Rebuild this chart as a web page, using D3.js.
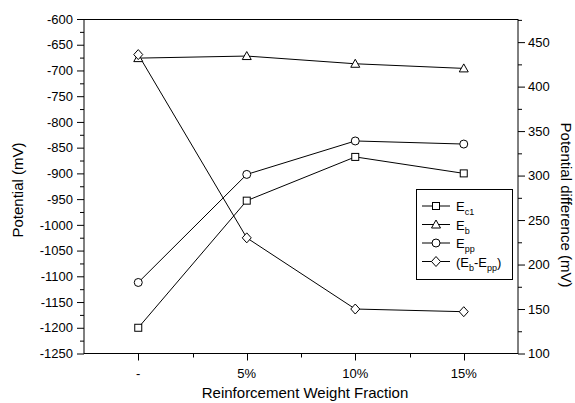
<!DOCTYPE html>
<html>
<head>
<meta charset="utf-8">
<script src="https://cdn.jsdelivr.net/npm/d3@7"></script>
<style>
  html, body { margin: 0; padding: 0; background: #fff; }
  svg { display: block; }
  text { font-family: "Liberation Sans", Arial, sans-serif; fill: #000; }
</style>
</head>
<body>
<script>
// Weight fractions of reinforcement
const categories = ["-", "5%", "10%", "15%"];

// Potentials (mV), left axis
const Ec1 = [-1200, -953, -868, -900];
const Eb  = [-676, -672, -687, -696];
const Epp = [-1112, -902, -837, -843];

// Potential difference Eb - Epp (mV), right axis
const diff = [436, 230, 150, 147];

const leftTicks  = d3.range(-1250, -599, 50);
const leftMinor  = d3.range(-1225, -600, 50);
const rightTicks = d3.range(100, 451, 50);
const rightMinor = d3.range(125, 476, 50);

const W = 575, H = 403;
const plot = { left: 84, right: 518, top: 19, bottom: 353.5 };

const svg = d3.select("body").append("svg")
  .attr("width", W).attr("height", H);

const x = d3.scaleBand().domain(categories)
  .range([plot.left, plot.right]).paddingInner(0).paddingOuter(0);
const xc = c => x(c) + x.bandwidth() / 2;

const yL = d3.scaleLinear().domain([-1250, -600]).range([plot.bottom, plot.top]);
const yR = d3.scaleLinear().domain([100, 476]).range([plot.bottom, plot.top]);

// plain hyphen for negative numbers
const fmt = d => String(d);

// frame
svg.append("rect")
  .attr("x", plot.left).attr("y", plot.top + 0.5)
  .attr("width", plot.right - plot.left).attr("height", plot.bottom - plot.top - 0.5)
  .attr("fill", "none").attr("stroke", "#000").attr("stroke-width", 1);

function styleAxis(g) {
  g.attr("font-family", null);
  g.select(".domain").remove();
  g.selectAll("line").attr("stroke", "#000");
  g.selectAll("text").style("font-size", "13px")
    .style("font-family", '"Liberation Sans", Arial, sans-serif');
}

// left axis
svg.append("g").attr("transform", `translate(${plot.left},0)`)
  .call(d3.axisLeft(yL).tickValues(leftTicks).tickSize(7).tickPadding(4).tickFormat(fmt))
  .call(styleAxis);
svg.append("g").attr("transform", `translate(${plot.left},0)`)
  .call(d3.axisLeft(yL).tickValues(leftMinor).tickSize(4).tickFormat(""))
  .call(styleAxis);

// right axis
svg.append("g").attr("transform", `translate(${plot.right},0)`)
  .call(d3.axisRight(yR).tickValues(rightTicks).tickSize(7).tickPadding(3).tickFormat(fmt))
  .call(styleAxis);
svg.append("g").attr("transform", `translate(${plot.right},0)`)
  .call(d3.axisRight(yR).tickValues(rightMinor).tickSize(4).tickFormat(""))
  .call(styleAxis);

// bottom axis: major ticks at category centres, minor at band edges
const xAxis = svg.append("g").attr("transform", `translate(0,${plot.bottom})`);
xAxis.selectAll("line.major").data(categories).join("line")
  .attr("x1", d => Math.round(xc(d)) + 0.5).attr("x2", d => Math.round(xc(d)) + 0.5)
  .attr("y1", 0).attr("y2", 7).attr("stroke", "#000");
xAxis.selectAll("line.minor").data(categories.slice(1)).join("line")
  .attr("x1", d => Math.round(x(d)) + 0.5).attr("x2", d => Math.round(x(d)) + 0.5)
  .attr("y1", 0).attr("y2", 4).attr("stroke", "#000");
xAxis.selectAll("text").data(categories).join("text")
  .attr("x", d => xc(d)).attr("y", 24)
  .attr("text-anchor", "middle").style("font-size", "13px")
  .text(d => d);

// axis titles
svg.append("text")
  .attr("transform", "translate(305,398)")
  .attr("text-anchor", "middle").style("font-size", "15px")
  .text("Reinforcement Weight Fraction");
svg.append("text")
  .attr("transform", "translate(23,190) rotate(-90)")
  .attr("text-anchor", "middle").style("font-size", "15px")
  .text("Potential (mV)");
svg.append("text")
  .attr("transform", "translate(561,205) rotate(90)")
  .attr("text-anchor", "middle").style("font-size", "15px")
  .text("Potential difference (mV)");

// marker shapes
const markers = {
  square: s => s.append("rect").attr("x", -3.5).attr("y", -3.5).attr("width", 7).attr("height", 7),
  triangle: s => s.append("path").attr("d", "M0,-4.5L4.5,3.5L-4.5,3.5Z"),
  circle: s => s.append("circle").attr("r", 4),
  diamond: s => s.append("path").attr("d", "M0,-5L4.5,0L0,5L-4.5,0Z")
};

const series = [
  { name: "Ec1", values: Ec1, y: yL, marker: "square" },
  { name: "Eb", values: Eb, y: yL, marker: "triangle" },
  { name: "Epp", values: Epp, y: yL, marker: "circle" },
  { name: "diff", values: diff, y: yR, marker: "diamond" }
];

const lineGen = yScale => d3.line()
  .x((d, i) => xc(categories[i]))
  .y(d => yScale(d));

series.forEach(s => {
  svg.append("path").datum(s.values)
    .attr("d", lineGen(s.y))
    .attr("fill", "none").attr("stroke", "#000").attr("stroke-width", 1);
});
series.forEach(s => {
  s.values.forEach((v, i) => {
    const g = svg.append("g")
      .attr("transform", `translate(${xc(categories[i])},${s.y(v)})`);
    markers[s.marker](g);
    g.selectAll("*").attr("fill", "#fff").attr("stroke", "#000").attr("stroke-width", 1);
  });
});

// legend
const legend = svg.append("g");
legend.append("rect")
  .attr("x", 416.5).attr("y", 189.5).attr("width", 96).attr("height", 90)
  .attr("fill", "#fff").attr("stroke", "#000").attr("stroke-width", 1);

const legendRows = [
  { marker: "square", parts: [["E", 0], ["c1", 1]] },
  { marker: "triangle", parts: [["E", 0], ["b", 1]] },
  { marker: "circle", parts: [["E", 0], ["pp", 1]] },
  { marker: "diamond", parts: [["(E", 0], ["b", 1], ["-E", 0], ["pp", 1], [")", 0]] }
];

legendRows.forEach((r, i) => {
  const cy = 206 + i * 18.5;
  legend.append("line")
    .attr("x1", 422).attr("x2", 450).attr("y1", cy).attr("y2", cy)
    .attr("stroke", "#000");
  const g = legend.append("g").attr("transform", `translate(436,${cy})`);
  markers[r.marker](g);
  g.selectAll("*").attr("fill", "#fff").attr("stroke", "#000").attr("stroke-width", 1);
  const t = legend.append("text").attr("x", 456).attr("y", cy + 5).style("font-size", "13px");
  r.parts.forEach(([txt, sub]) => {
    const ts = t.append("tspan").text(txt);
    if (sub) ts.style("font-size", "9px").attr("dy", 4);
    else if (t.selectAll("tspan").size() > 1) ts.attr("dy", -4);
  });
});
</script>
</body>
</html>
